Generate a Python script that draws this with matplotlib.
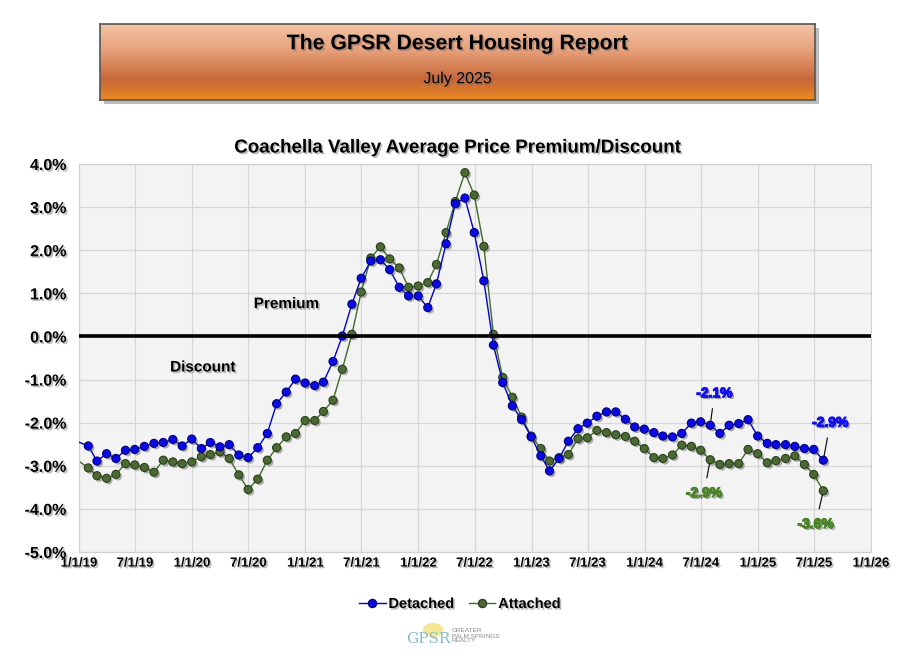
import numpy as np
import pandas as pd
import matplotlib
matplotlib.use('Agg')
import matplotlib.pyplot as plt
import matplotlib.patheffects as pe
from matplotlib.colors import LinearSegmentedColormap
from matplotlib.lines import Line2D
from matplotlib.patches import Rectangle, Circle

plt.rcParams['font.family'] = ['Liberation Sans', 'DejaVu Sans']

# month-end values, Dec 2018 .. Jul 2025 (the Dec 2018 point sits on the left edge)
months = pd.date_range('2018-12-31', periods=80, freq='ME')

detached = [-2.45,
            -2.54, -2.89, -2.72, -2.83, -2.64, -2.62, -2.55, -2.48, -2.46, -2.39, -2.54, -2.38,
            -2.60, -2.46, -2.56, -2.51, -2.75, -2.81, -2.58, -2.25, -1.56, -1.29, -0.99, -1.08,
            -1.14, -1.06, -0.58, 0.01, 0.75, 1.35, 1.75, 1.78, 1.55, 1.14, 0.94, 0.94,
            0.67, 1.22, 2.15, 3.08, 3.21, 2.41, 1.29, -0.20, -1.07, -1.61, -1.93, -2.33,
            -2.77, -3.12, -2.83, -2.43, -2.14, -2.01, -1.85, -1.75, -1.75, -1.92, -2.10, -2.15,
            -2.23, -2.31, -2.33, -2.25, -2.01, -1.98, -2.06, -2.25, -2.06, -2.02, -1.93, -2.31,
            -2.48, -2.51, -2.51, -2.55, -2.60, -2.62, -2.87]

attached = [-2.89,
            -3.05, -3.23, -3.29, -3.20, -2.95, -2.98, -3.04, -3.15, -2.87, -2.91, -2.95, -2.91,
            -2.79, -2.74, -2.68, -2.83, -3.21, -3.55, -3.31, -2.87, -2.58, -2.33, -2.25, -1.95,
            -1.95, -1.74, -1.48, -0.76, 0.05, 1.03, 1.82, 2.08, 1.80, 1.59, 1.14, 1.17,
            1.25, 1.67, 2.41, 3.13, 3.80, 3.28, 2.09, 0.05, -0.95, -1.41, -1.87, -2.31,
            -2.60, -2.89, -2.81, -2.74, -2.37, -2.35, -2.18, -2.23, -2.28, -2.32, -2.43, -2.60,
            -2.81, -2.83, -2.75, -2.52, -2.55, -2.64, -2.86, -2.97, -2.95, -2.95, -2.62, -2.72,
            -2.93, -2.88, -2.83, -2.77, -2.97, -3.20, -3.58]

x_ticks = pd.date_range('2019-01-01', '2026-01-01', freq='6MS')
x_labels = ['1/1/19', '7/1/19', '1/1/20', '7/1/20', '1/1/21', '7/1/21', '1/1/22', '7/1/22',
            '1/1/23', '7/1/23', '1/1/24', '7/1/24', '1/1/25', '7/1/25', '1/1/26']
y_ticks = [-5, -4, -3, -2, -1, 0, 1, 2, 3, 4]
y_labels = ['-5.0%', '-4.0%', '-3.0%', '-2.0%', '-1.0%', '0.0%', '1.0%', '2.0%', '3.0%', '4.0%']

# (month index, series, label text)
callouts = [(67, 'det', '-2.1%'), (79, 'det', '-2.9%'), (67, 'att', '-2.9%'), (79, 'att', '-3.6%')]

BLUE = '#0a0ae6'
BLUE_EDGE = '#00007a'
GREEN = '#4b6a33'
GREEN_EDGE = '#2a3f1c'
BLUE_TXT = '#1010f0'
GREEN_TXT = '#4a8228'

shadow_txt = [pe.withSimplePatchShadow(offset=(1.2, -1.2), shadow_rgbFace='#666666', alpha=0.45)]
shadow_mk = [pe.SimplePatchShadow(offset=(1.5, -1.5), shadow_rgbFace='#555555', alpha=0.45), pe.Normal()]


def heavy(col):
    return [pe.SimplePatchShadow(offset=(1.3, -1.3), shadow_rgbFace='#444444', alpha=0.5),
            pe.Stroke(linewidth=0.9, foreground=col), pe.Normal()]


fig = plt.figure(figsize=(9.12, 6.6), dpi=100)
fig.patch.set_facecolor('white')

# ---- banner at the top
W, H = 912.0, 660.0
bx0, by0, bw, bh = 100, 24, 715, 76
sax = fig.add_axes([(bx0 + 4) / W, 1 - (by0 + bh + 4) / H, bw / W, bh / H])
sax.set_axis_off()
sax.add_patch(Rectangle((0, 0), 1, 1, transform=sax.transAxes, facecolor='#a0a0a0',
                        edgecolor='none', alpha=0.7))
bax = fig.add_axes([bx0 / W, 1 - (by0 + bh) / H, bw / W, bh / H])
bax.set_zorder(3)
cmap = LinearSegmentedColormap.from_list('banner', [(0, '#f3c4a6'), (0.35, '#e6a07a'),
                                                    (0.72, '#c8683a'), (0.88, '#d9782c'),
                                                    (1, '#f08c20')])
grad = np.linspace(0, 1, 200).reshape(-1, 1)
bax.imshow(grad, aspect='auto', cmap=cmap, extent=[0, 1, 0, 1], origin='upper')
bax.set_xticks([])
bax.set_yticks([])
for s in bax.spines.values():
    s.set_color('#555555')
    s.set_linewidth(1.2)
bax.text(0.5, 0.74, 'The GPSR Desert Housing Report', ha='center', va='center',
         fontsize=15.3, fontweight='bold', color='black', transform=bax.transAxes,
         path_effects=shadow_txt)
bax.text(0.5, 0.28, 'July 2025', ha='center', va='center', fontsize=11.5, color='black',
         transform=bax.transAxes, path_effects=shadow_txt)

# ---- main chart
ax = fig.add_axes([79 / W, (H - 552) / H, 792 / W, 388 / H])
ax.set_facecolor('#f3f3f3')

ax.plot(months, detached, color='#0000c8', lw=1.0, zorder=3)
ax.plot(months, attached, color='#3f6a2a', lw=1.0, zorder=2)
ax.plot(months[1:], attached[1:], ls='none', marker='o', ms=5.8, mfc=GREEN, mec=GREEN_EDGE,
        mew=0.8, zorder=2.5, path_effects=shadow_mk)
ax.plot(months[1:], detached[1:], ls='none', marker='o', ms=5.8, mfc=BLUE, mec=BLUE_EDGE,
        mew=0.8, zorder=3.5, path_effects=shadow_mk)

ax.axhline(0, color='black', lw=2.6, zorder=4)

ax.set_xlim(pd.Timestamp('2019-01-01'), pd.Timestamp('2026-01-01'))
ax.set_ylim(-5, 4)
ax.set_xticks(x_ticks)
ax.set_xticklabels(x_labels)
ax.set_yticks(y_ticks)
ax.set_yticklabels(y_labels)
ax.tick_params(axis='both', length=0)
ax.tick_params(axis='x', pad=4, labelsize=9.5)
ax.tick_params(axis='y', pad=9, labelsize=11.5)
for lab in ax.get_xticklabels() + ax.get_yticklabels():
    lab.set_fontweight('bold')
    lab.set_path_effects(shadow_txt)
ax.grid(True, color='#d6d6d6', lw=0.9, zorder=0)
ax.set_axisbelow(True)
for s in ax.spines.values():
    s.set_color('#d0d0d0')
    s.set_linewidth(0.8)

fig.text(457 / W, 1 - 148 / H, 'Coachella Valley Average Price Premium/Discount', fontsize=13.5,
         fontweight='bold', ha='center', va='center', path_effects=shadow_txt)

ax.text(pd.Timestamp('2020-11-01'), 0.75, 'Premium', fontsize=11, fontweight='bold',
        ha='center', va='center', path_effects=shadow_txt)
ax.text(pd.Timestamp('2020-02-05'), -0.72, 'Discount', fontsize=11, fontweight='bold',
        ha='center', va='center', path_effects=shadow_txt)

for idx, series, txt in callouts:
    if series == 'det':
        yv = detached[idx]
        off = (3, 23) if idx == 67 else (5, 27)
        col = BLUE_TXT
    else:
        yv = attached[idx]
        off = (-4.5, -24) if idx == 67 else (-5.5, -24)
        col = GREEN_TXT
    ax.annotate(txt, xy=(months[idx], yv), xytext=off, textcoords='offset points',
                ha='center', va='center', fontsize=10, fontweight='bold', color=col,
                path_effects=heavy(col), zorder=6,
                arrowprops=dict(arrowstyle='-', color='black', lw=0.8, shrinkA=4, shrinkB=3))

handles = [Line2D([], [], color='#0000c8', lw=1.0, marker='o', ms=5.8, mfc=BLUE, mec=BLUE_EDGE),
           Line2D([], [], color='#3f6a2a', lw=1.0, marker='o', ms=5.8, mfc=GREEN, mec=GREEN_EDGE)]
leg = fig.legend(handles, ['Detached', 'Attached'], loc='center', bbox_to_anchor=(460 / W, 1 - 604 / H),
                 ncol=2, frameon=False, fontsize=10.5, handlelength=1.8, handletextpad=0.2,
                 columnspacing=1.0)
for t in leg.get_texts():
    t.set_fontweight('bold')
    t.set_path_effects(shadow_txt)

# ---- small logo at the bottom
fig.patches.append(Circle((433 / W, 1 - 630 / H), 0.011, transform=fig.transFigure,
                          facecolor='#f6e27a', edgecolor='none', alpha=0.8))
fig.text(428 / W, 1 - 639 / H, 'GPSR', fontsize=11, color='#86bcc8', family='DejaVu Serif',
         ha='center', va='center')
fig.text(452 / W, 1 - 636 / H, 'GREATER\nPALM SPRINGS\nREALTY', fontsize=4.6, color='#8a8a8a',
         ha='left', va='center', linespacing=1.0)

fig.savefig('out.png', dpi=100)
